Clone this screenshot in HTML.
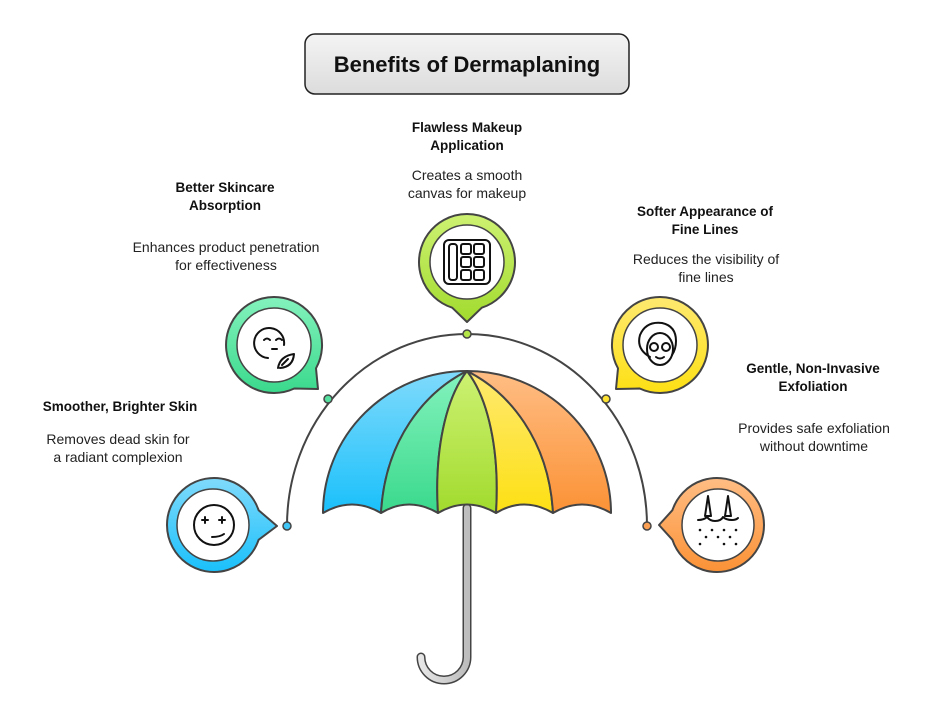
<!DOCTYPE html>
<html><head><meta charset="utf-8"><style>
html,body{margin:0;padding:0;background:#fff;}
svg{display:block;font-family:"Liberation Sans",sans-serif;}
.t{font-weight:bold;font-size:13.5px;fill:#111;text-anchor:middle;}
.d{font-size:14px;fill:#222;text-anchor:middle;}
</style></head><body>
<svg width="938" height="708" viewBox="0 0 938 708" xmlns="http://www.w3.org/2000/svg">
<defs>
<linearGradient id="gt" x1="0" y1="0" x2="0" y2="1"><stop offset="0" stop-color="#f4f4f4"/><stop offset="1" stop-color="#dcdcdc"/></linearGradient>
<linearGradient id="gb" x1="0" y1="0" x2="0" y2="1"><stop offset="0" stop-color="#80dafb"/><stop offset="1" stop-color="#1ac0fb"/></linearGradient>
<linearGradient id="gg" x1="0" y1="0" x2="0" y2="1"><stop offset="0" stop-color="#84f2bd"/><stop offset="1" stop-color="#3ad98c"/></linearGradient>
<linearGradient id="gl" x1="0" y1="0" x2="0" y2="1"><stop offset="0" stop-color="#cdf172"/><stop offset="1" stop-color="#a2db2e"/></linearGradient>
<linearGradient id="gy" x1="0" y1="0" x2="0" y2="1"><stop offset="0" stop-color="#fee970"/><stop offset="1" stop-color="#fde014"/></linearGradient>
<linearGradient id="go" x1="0" y1="0" x2="0" y2="1"><stop offset="0" stop-color="#ffbd84"/><stop offset="1" stop-color="#fb9236"/></linearGradient>
<linearGradient id="gh" x1="0" y1="0" x2="1" y2="0"><stop offset="0" stop-color="#e6e6e6"/><stop offset="1" stop-color="#bdbdbd"/></linearGradient>
</defs>

<rect x="305" y="34" width="324" height="60" rx="10" fill="url(#gt)" stroke="#222" stroke-width="1.5"/>
<text x="467" y="72" text-anchor="middle" font-size="22" font-weight="bold" fill="#111">Benefits of Dermaplaning</text>

<path d="M287,526 A180 192 0 0 1 647,526" fill="none" stroke="#444" stroke-width="2"/>

<path d="M467,508 L467,657 A23 23 0 0 1 421,657" fill="none" stroke="#444" stroke-width="9" stroke-linecap="round"/>
<path d="M467,508 L467,657 A23 23 0 0 1 421,657" fill="none" stroke="url(#gh)" stroke-width="6" stroke-linecap="round"/>

<g stroke="#444" stroke-width="2" stroke-linejoin="round">
<path d="M467,371 A144 142 0 0 0 323,513 Q352,496 381,513 C385,440 425,392 467,371Z" fill="url(#gb)"/>
<path d="M467,371 C425,392 385,440 381,513 Q409,496 438,513 C434,450 446,398 467,371Z" fill="url(#gg)"/>
<path d="M467,371 C446,398 434,450 438,513 Q467,496 496,513 C500,450 488,398 467,371Z" fill="url(#gl)"/>
<path d="M467,371 C488,398 500,450 496,513 Q524,496 553,513 C549,440 509,392 467,371Z" fill="url(#gy)"/>
<path d="M467,371 C509,392 549,440 553,513 Q582,496 611,513 A144 142 0 0 0 467,371Z" fill="url(#go)"/>
</g>

<g stroke="#444" stroke-width="1.5">
<circle cx="287" cy="526" r="4" fill="#40c6f7"/>
<circle cx="328" cy="399" r="4" fill="#55e0a0"/>
<circle cx="467" cy="334" r="4" fill="#b4e648"/>
<circle cx="606" cy="399" r="4" fill="#fde232"/>
<circle cx="647" cy="526" r="4" fill="#fca154"/>
</g>

<g stroke="#444" stroke-width="2" stroke-linejoin="round">
<path d="M258.6,510.2 L277,526 L258.6,539.8 A47 47 0 1 1 258.6,510.2Z" fill="url(#gb)"/>
<path d="M316,368.3 L318,389 L294.3,388.5 A48 48 0 1 1 316,368.3Z" fill="url(#gg)"/>
<path d="M481.8,307.7 L467,322 L452.2,307.7 A48 48 0 1 1 481.8,307.7Z" fill="url(#gl)"/>
<path d="M639.7,388.5 L616,389 L618,368.3 A48 48 0 1 1 639.7,388.5Z" fill="url(#gy)"/>
<path d="M672.4,539.8 L659,525 L672.4,510.2 A47 47 0 1 1 672.4,539.8Z" fill="url(#go)"/>
</g>
<g fill="#fff" stroke="#444" stroke-width="1.5">
<circle cx="213" cy="525" r="36"/>
<circle cx="274" cy="345" r="37"/>
<circle cx="467" cy="262" r="37"/>
<circle cx="660" cy="345" r="37"/>
<circle cx="718" cy="525" r="36"/>
</g>

<g fill="none" stroke="#111" stroke-width="2" stroke-linecap="round" stroke-linejoin="round">
<circle cx="214" cy="525" r="20"/>
<path d="M205,517 l0,6 M202,520 l6,0 M222,517 l0,6 M219,520 l6,0"/>
<path d="M212,537 q8,0 12,-3"/>
<path d="M284,345 A15 15 0 1 0 268,358"/>
<path d="M264,340 q3,-3 6,0 M276,340 q3,-3 6,0 M272,349 l5,0"/>
<path d="M278,368 q2,-12 16,-14 q-1,13 -14,14 M282,365 l6,-6"/>
<rect x="444" y="240" width="46" height="44" rx="5"/>
<rect x="449" y="244" width="8" height="36" rx="3"/>
<rect x="461" y="244" width="10" height="10" rx="2"/><rect x="474" y="244" width="10" height="10" rx="2"/>
<rect x="461" y="257" width="10" height="10" rx="2"/><rect x="474" y="257" width="10" height="10" rx="2"/>
<rect x="461" y="270" width="10" height="10" rx="2"/><rect x="474" y="270" width="10" height="10" rx="2"/>
<path d="M650,357 q-14,-8 -10,-22 q6,-14 22,-12 q14,3 14,18 q0,8 -4,14"/>
<ellipse cx="660" cy="349" rx="13" ry="16"/>
<circle cx="654" cy="347" r="4"/><circle cx="666" cy="347" r="4"/>
<path d="M656,357 q4,3 8,0"/>
<path d="M698,520 q6,0 9,-3 q3,4 8,4 q6,0 8,-4 q3,3 9,3 q4,0 6,-2"/>
<path d="M705,516 l3,-20 l3,20z M725,516 l3,-20 l3,20z"/>
</g>
<g fill="#111">
<circle cx="700" cy="530" r="1.3"/><circle cx="712" cy="530" r="1.3"/><circle cx="724" cy="530" r="1.3"/><circle cx="736" cy="530" r="1.3"/>
<circle cx="706" cy="537" r="1.3"/><circle cx="718" cy="537" r="1.3"/><circle cx="730" cy="537" r="1.3"/>
<circle cx="700" cy="544" r="1.3"/><circle cx="724" cy="544" r="1.3"/><circle cx="736" cy="544" r="1.3"/>
</g>

<text class="t" x="120" y="411">Smoother, Brighter Skin</text>
<text class="d" x="118" y="444">Removes dead skin for</text>
<text class="d" x="118" y="462">a radiant complexion</text>

<text class="t" x="225" y="192">Better Skincare</text>
<text class="t" x="225" y="210">Absorption</text>
<text class="d" x="226" y="252">Enhances product penetration</text>
<text class="d" x="226" y="270">for effectiveness</text>

<text class="t" x="467" y="132">Flawless Makeup</text>
<text class="t" x="467" y="150">Application</text>
<text class="d" x="467" y="180">Creates a smooth</text>
<text class="d" x="467" y="198">canvas for makeup</text>

<text class="t" x="705" y="216">Softer Appearance of</text>
<text class="t" x="705" y="234">Fine Lines</text>
<text class="d" x="706" y="264">Reduces the visibility of</text>
<text class="d" x="706" y="282">fine lines</text>

<text class="t" x="813" y="373">Gentle, Non-Invasive</text>
<text class="t" x="813" y="391">Exfoliation</text>
<text class="d" x="814" y="433">Provides safe exfoliation</text>
<text class="d" x="814" y="451">without downtime</text>
</svg>
</body></html>
